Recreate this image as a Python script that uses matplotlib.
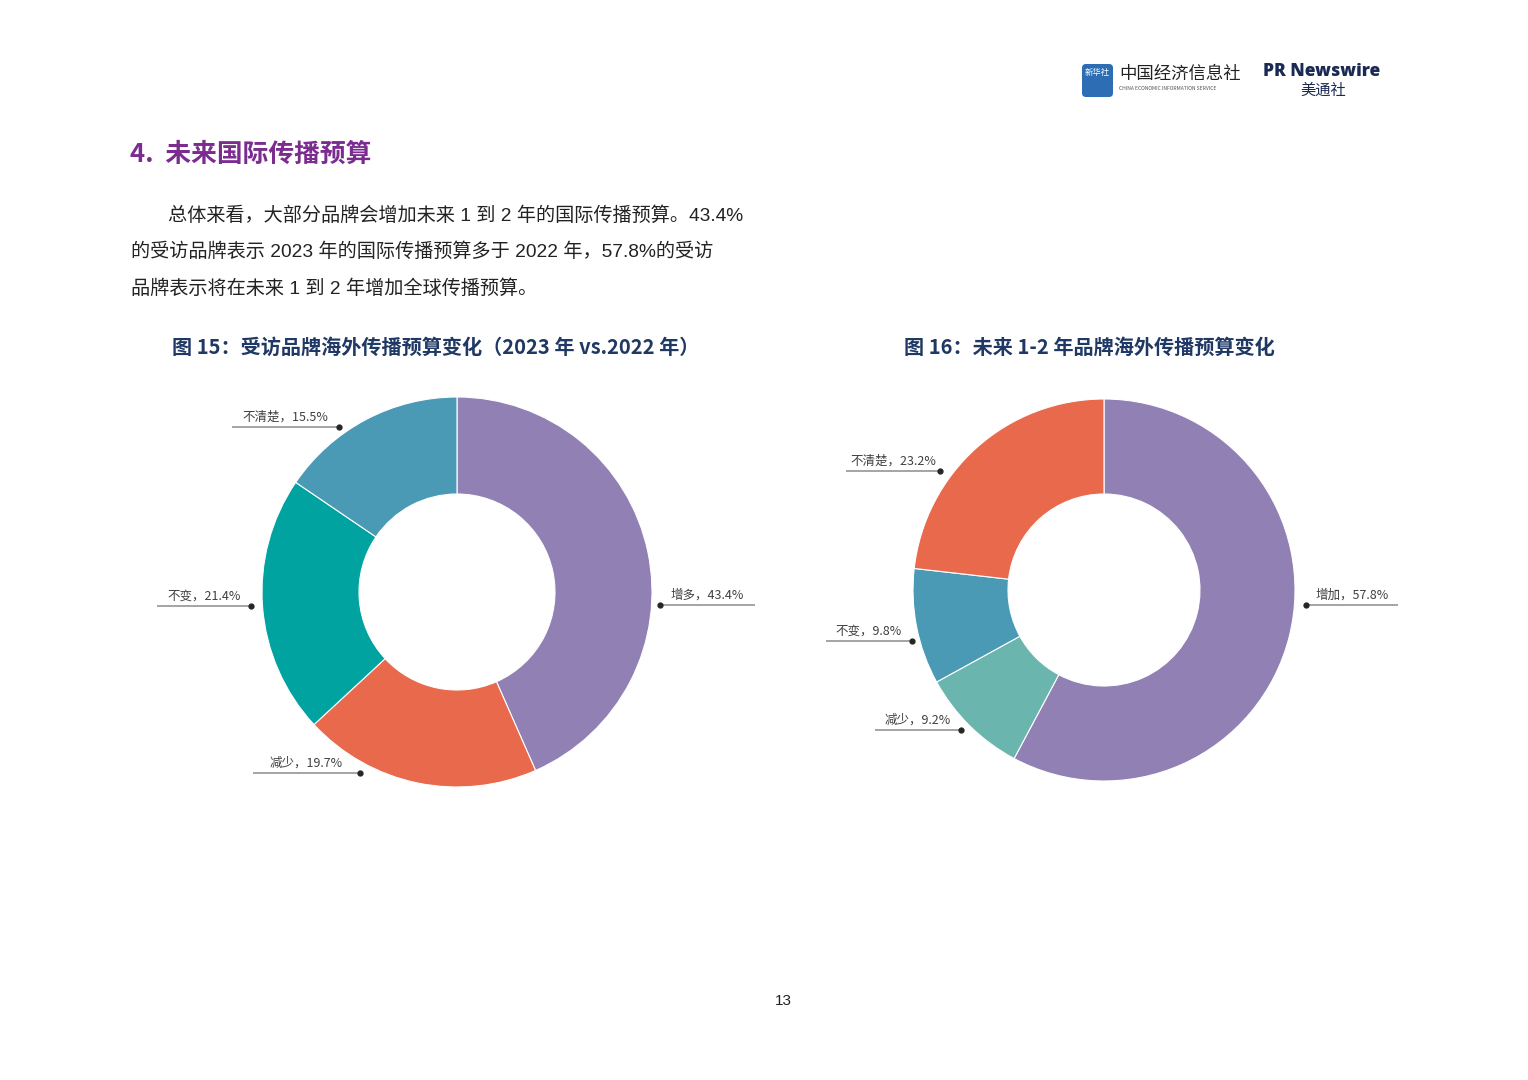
import matplotlib
matplotlib.use('Agg')
import matplotlib.pyplot as plt
from matplotlib.patches import FancyBboxPatch

plt.rcParams['font.family'] = ['Noto Sans CJK SC', 'DejaVu Sans']

# 图 15 数据
cats_15 = ['增多', '减少', '不变', '不清楚']
vals_15 = [43.4, 19.7, 21.4, 15.5]
colors_15 = ['#9180B4', '#E8694B', '#00A3A0', '#4A9AB5']

# 图 16 数据
cats_16 = ['增加', '减少', '不变', '不清楚']
vals_16 = [57.8, 9.2, 9.8, 23.2]
colors_16 = ['#9180B4', '#6BB5AF', '#4A9AB5', '#E8694B']

fig = plt.figure(figsize=(15.28, 10.8), dpi=100)
ax = fig.add_axes([0, 0, 1, 1])

# 两个环形图 (像素坐标, y 轴向下)
ax.pie(vals_15, colors=colors_15, center=(457, 592), radius=195,
       startangle=-90, counterclock=True, frame=True,
       wedgeprops=dict(width=97, edgecolor='white', linewidth=0.8))
ax.pie(vals_16, colors=colors_16, center=(1104, 590), radius=191,
       startangle=-90, counterclock=True, frame=True,
       wedgeprops=dict(width=95, edgecolor='white', linewidth=0.8))

ax.set_xlim(0, 1528)
ax.set_ylim(1080, 0)
ax.set_aspect('equal')
ax.axis('off')


# 引线标签
def leader(x0, x1, y, text):
    ax.plot([x0, x1], [y, y], color='#8C8C8C', lw=1.1, solid_capstyle='butt')
    ax.plot([x0], [y], 'o', color='#262626', ms=3.5)
    ax.text((x0 + x1) / 2, y - 10, text, ha='center', va='center',
            fontsize=9, color='#404040')


lab15 = [f'{c}，{v}%' for c, v in zip(cats_15, vals_15)]
lab16 = [f'{c}，{v}%' for c, v in zip(cats_16, vals_16)]

leader(660, 755, 605, lab15[0])
leader(360, 253, 773, lab15[1])
leader(251, 157, 606, lab15[2])
leader(339, 232, 427, lab15[3])

leader(1306, 1398, 605, lab16[0])
leader(961, 875, 730, lab16[1])
leader(912, 826, 641, lab16[2])
leader(940, 846, 471, lab16[3])

# 标题与正文
ax.text(130, 154, '4.  未来国际传播预算', fontsize=18.5, fontweight='heavy',
        color='#7B2C8F', va='center', ha='left')

body_font = ['Liberation Sans', 'Noto Sans CJK SC', 'DejaVu Sans']
body = ['总体来看，大部分品牌会增加未来 1 到 2 年的国际传播预算。43.4%',
        '的受访品牌表示 2023 年的国际传播预算多于 2022 年，57.8%的受访',
        '品牌表示将在未来 1 到 2 年增加全球传播预算。']
ax.text(168, 216, body[0], fontsize=13.8, color='#222222', va='center', ha='left',
        family=body_font)
ax.text(131, 252, body[1], fontsize=13.8, color='#222222', va='center', ha='left',
        family=body_font)
ax.text(131, 289, body[2], fontsize=13.8, color='#222222', va='center', ha='left',
        family=body_font)

ax.text(172, 347, '图 15：受访品牌海外传播预算变化（2023 年 vs.2022 年）',
        fontsize=14.5, fontweight='bold', color='#1F3864', va='center', ha='left')
ax.text(904, 347, '图 16：未来 1-2 年品牌海外传播预算变化',
        fontsize=14.5, fontweight='bold', color='#1F3864', va='center', ha='left')

# 页眉标志
logo = FancyBboxPatch((1082, 64), 31, 33, boxstyle='round,pad=0,rounding_size=4',
                      fc='#2C6DB3', ec='none')
ax.add_patch(logo)
ax.text(1097.5, 73, '新华社', fontsize=6, color='white', ha='center', va='center')
ax.text(1119, 74, '中国经济信息社', fontsize=12.5, fontweight='medium',
        color='#222222', ha='left', va='center')
ax.text(1119, 89, 'CHINA ECONOMIC INFORMATION SERVICE', fontsize=3.6,
        color='#555555', ha='left', va='center')
ax.text(1322, 72, 'PR Newswire', fontsize=12.5, fontweight='heavy', color='#1B2A55',
        ha='center', va='center', family=['Open Sans', 'DejaVu Sans'])
ax.text(1323, 90, '美通社', fontsize=11, color='#1B2A55', ha='center', va='center')

ax.text(783, 1001, '13', fontsize=11, color='#222222', ha='center', va='center',
        family=['Liberation Sans', 'DejaVu Sans'])

fig.savefig('out.png', dpi=100, facecolor='white')
